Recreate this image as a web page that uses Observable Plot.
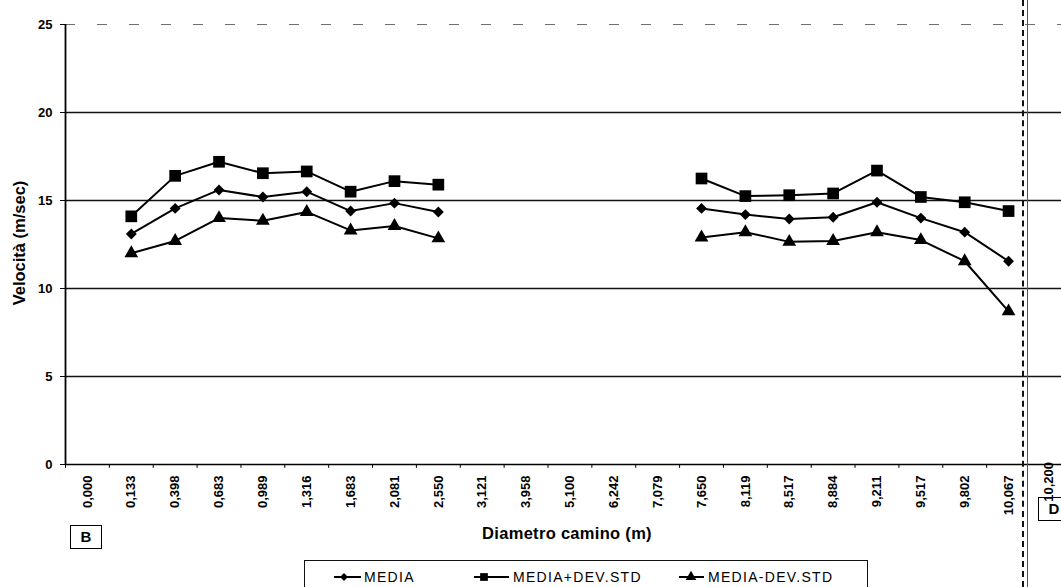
<!DOCTYPE html>
<html>
<head>
<meta charset="utf-8">
<script src="https://cdn.jsdelivr.net/npm/d3@7"></script>
<script src="https://cdn.jsdelivr.net/npm/@observablehq/plot@0.6"></script>
<style>
  html, body { margin: 0; padding: 0; background: #fff; }
  #wrap { position: relative; width: 1061px; height: 587px; overflow: hidden; background: #fff;
          font-family: "Liberation Sans", Arial, sans-serif; color: #000; }
  #chart { position: absolute; left: 0; top: 0; }
  .abs { position: absolute; white-space: nowrap; }
  #ylabel { left: 19px; top: 243px; transform: translate(-50%, -50%) rotate(-90deg); font-weight: bold; font-size: 16.5px; }
  #xtitle { left: 567px; top: 525px; transform: translateX(-50%); font-weight: bold; font-size: 16.5px; line-height: 1; letter-spacing: 0.3px; }
  .boxlab { border: 1.5px solid #000; font-weight: bold; font-size: 15px; text-align: center; line-height: 22px; height: 22px; }
  #legend { left: 304px; top: 560px; width: 562px; height: 40px; border: 1px solid #111; }
  .ltext { position: absolute; top: 9px; font-size: 14px; line-height: 1; white-space: nowrap; letter-spacing: 1.3px; }
</style>
</head>
<body>
<div id="wrap">
  <div id="chart"></div>
  <div id="ylabel" class="abs">Velocità (m/sec)</div>
  <div id="xtitle" class="abs">Diametro camino (m)</div>
  <div class="abs boxlab" style="left:70px; top:525px; width:30px;">B</div>
  <div class="abs boxlab" style="left:1038px; top:497px; width:30px;">D</div>
  <div class="abs" style="left:1048px; top:462px; transform-origin:0 0; transform: rotate(-90deg) translate(-100%, -50%); font-weight:bold; font-size:13px; line-height:1;">10,200</div>
  <div class="abs" style="left:1022px; top:0; height:587px; border-left:2.5px dashed #111;"></div>
  <div class="abs" style="left:1027px; top:0; height:587px; border-left:1px solid #555;"></div>
  <div id="legend" class="abs"></div>
</div>
<script>
// Category labels (Diametro camino, m)
const xLabels = ["0,000","0,133","0,398","0,683","0,989","1,316","1,683","2,081","2,550",
  "3,121","3,958","5,100","6,242","7,079","7,650","8,119","8,517","8,884","9,211","9,517","9,802","10,067"];

// Series values (m/sec); null = no measurement
const media =      [null, 13.1, 14.55, 15.6, 15.2, 15.5, 14.4, 14.85, 14.35, null, null, null, null, null, 14.55, 14.2, 13.95, 14.05, 14.9, 14.0, 13.2, 11.55];
const mediaPlus =  [null, 14.1, 16.4, 17.2, 16.55, 16.65, 15.5, 16.1, 15.9, null, null, null, null, null, 16.25, 15.25, 15.3, 15.4, 16.7, 15.2, 14.9, 14.4];
const mediaMinus = [null, 12.0, 12.7, 14.0, 13.85, 14.35, 13.3, 13.55, 12.85, null, null, null, null, null, 12.9, 13.2, 12.65, 12.7, 13.2, 12.75, 11.55, 8.7];

const yTicks = [0, 5, 10, 15, 20, 25];
const seriesNames = ["MEDIA", "MEDIA+DEV.STD", "MEDIA-DEV.STD"];

const rows = xLabels.map((x, i) => ({x, media: media[i], plus: mediaPlus[i], minus: mediaMinus[i]}));

const W = 1061, H = 520, mL = 65, mR = 0, mT = 24, mB = 56, insetR = 31;
const half = (W - mL - mR - insetR) / xLabels.length / 2;

const plot = Plot.plot({
  width: W, height: H,
  marginLeft: mL, marginRight: mR, marginTop: mT, marginBottom: mB,
  style: {fontFamily: "'Liberation Sans', Arial, sans-serif", fontSize: "13px", fontWeight: "bold", background: "#fff", color: "#000", overflow: "visible"},
  x: {type: "point", domain: xLabels, padding: 0.5, round: false, insetRight: insetR},
  y: {domain: [0, 25]},
  marks: [
    Plot.ruleY([5, 10, 15, 20], {stroke: "#111", strokeWidth: 1.5}),
    Plot.ruleY([25], {stroke: "#333", strokeWidth: 1.2, strokeDasharray: "10,22", strokeOpacity: 0.7}),
    Plot.ruleY([0], {stroke: "#000", strokeWidth: 1.6}),
    Plot.ruleX([xLabels[0]], {dx: -half, stroke: "#000", strokeWidth: 1.8}),
    Plot.ruleX(xLabels, {x: d => d, dx: -half, y1: 0, y2: -0.22, stroke: "#000", strokeWidth: 1}),
    Plot.axisY({ticks: yTicks, tickSize: 5, tickPadding: 8, label: null, fontSize: 13}),
    Plot.axisX({tickSize: 0, tickRotate: -90, tickPadding: 11, label: null, fontSize: 13}),
    Plot.line(rows, {x: "x", y: "plus", stroke: "#000", strokeWidth: 2}),
    Plot.line(rows, {x: "x", y: "media", stroke: "#000", strokeWidth: 2}),
    Plot.line(rows, {x: "x", y: "minus", stroke: "#000", strokeWidth: 2}),
    Plot.dot(rows, {x: "x", y: "plus", symbol: "square", r: 6.6, fill: "#000", stroke: "none"}),
    Plot.dot(rows, {x: "x", y: "media", symbol: "diamond2", r: 4.9, fill: "#000", stroke: "none"}),
    Plot.dot(rows, {x: "x", y: "minus", symbol: "triangle", r: 5.1, fill: "#000", stroke: "none"})
  ]
});
document.getElementById("chart").appendChild(plot);

// Legend
const legend = document.getElementById("legend");
const legendSymbols = [d3.symbolDiamond2, d3.symbolSquare, d3.symbolTriangle];
const legendSizes = [40, 60, 50];
const swLeft = [29, 169, 374], swWidth = [27, 35, 25], symAt = [10, 10, 12], txtLeft = [59, 208, 403];
seriesNames.forEach((name, i) => {
  const svg = d3.create("svg").attr("width", swWidth[i]).attr("height", 30)
    .style("position", "absolute").style("left", swLeft[i] + "px").style("top", "0px");
  svg.append("line").attr("x1", 0).attr("x2", swWidth[i]).attr("y1", 16).attr("y2", 16)
    .attr("stroke", "#000").attr("stroke-width", 2);
  svg.append("path").attr("d", d3.symbol(legendSymbols[i], legendSizes[i])())
    .attr("transform", `translate(${symAt[i]},16)`).attr("fill", "#000");
  legend.appendChild(svg.node());
  const t = document.createElement("div");
  t.className = "ltext";
  t.style.left = txtLeft[i] + "px";
  t.textContent = name;
  legend.appendChild(t);
});
</script>
</body>
</html>
